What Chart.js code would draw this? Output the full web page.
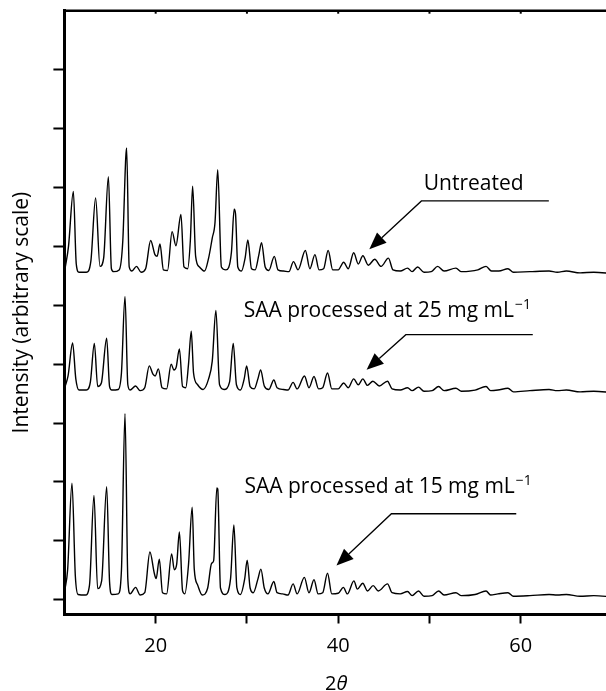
<!DOCTYPE html>
<html>
<head>
<meta charset="utf-8">
<script src="https://cdn.jsdelivr.net/npm/chart.js@4/dist/chart.umd.min.js"></script>
<style>
  html, body { margin: 0; padding: 0; background: #fff; overflow: hidden; width: 606px; height: 691px; }
  #wrap { position: relative; width: 616px; height: 691px; }
</style>
</head>
<body>
<div id="wrap"><canvas id="xrd" width="616" height="691"></canvas></div>
<script>
// Powder X-ray diffraction patterns, stacked on an arbitrary intensity scale.

// Untreated material
const angleUntreated = [
  10.07, 10.45, 10.98, 11.3, 11.6, 12.4, 12.9, 13.42, 13.9, 14.3, 14.82, 15.15, 15.4, 16.0, 16.4, 16.72, 16.82, 17.1, 17.4,
  17.9, 18.4, 18.9, 19.45, 19.92, 20.16, 20.47, 20.85, 21.3, 21.8, 22.22, 22.77, 23.1, 23.5, 23.8, 24.05, 24.38, 24.8,
  25.35, 25.8, 26.2, 26.5, 26.8, 27.2, 27.7, 28.3, 28.6, 28.75, 29.0, 29.4, 29.8, 30.1, 30.5, 30.9, 31.3, 31.6, 32.0,
  32.4, 33.0, 33.4, 34.0, 34.6, 35.1, 35.6, 36.4, 36.9, 37.45, 37.9, 38.4, 38.9, 39.4, 40.0, 40.6, 41.1, 41.7, 42.2,
  42.7, 43.3, 44.0, 44.7, 45.5, 46.0, 46.8, 47.6, 48.1, 48.7, 49.4, 50.2, 50.9, 51.6, 52.9, 53.5, 55.3, 56.2, 56.8,
  57.6, 58.6, 59.2, 61.0, 63.1, 64.0, 65.0, 66.5, 68.0, 70.0
];
const intensityUntreated = [
  5.62, 6.0, 6.93, 5.7, 5.56, 5.56, 5.75, 6.82, 5.66, 5.8, 7.18, 5.62, 5.57, 5.6, 6.1, 7.5, 7.67, 5.65, 5.58,
  5.66, 5.56, 5.62, 6.10, 5.86, 5.83, 6.04, 5.6, 5.59, 6.25, 6.01, 6.54, 5.65, 5.62, 6.1, 7.02, 5.83, 5.65,
  5.58, 5.8, 6.14, 6.4, 7.30, 5.65, 5.6, 5.9, 6.63, 6.55, 5.65, 5.58, 5.8, 6.11, 5.62, 5.6, 5.85, 6.06, 5.65,
  5.59, 5.83, 5.6, 5.58, 5.57, 5.74, 5.6, 5.93, 5.62, 5.86, 5.6, 5.62, 5.93, 5.6, 5.6, 5.73, 5.62, 5.89, 5.7,
  5.84, 5.68, 5.78, 5.66, 5.80, 5.6, 5.58, 5.63, 5.57, 5.65, 5.56, 5.57, 5.66, 5.58, 5.63, 5.57, 5.6, 5.66, 5.58,
  5.58, 5.62, 5.56, 5.57, 5.58, 5.56, 5.58, 5.55, 5.56, 5.54
];

// SAA processed at 25 mg/mL
const angle25 = [
  10.07, 10.4, 10.9, 11.25, 11.6, 12.4, 12.85, 13.28, 13.65, 14.05, 14.63, 14.95, 15.2, 15.9, 16.25, 16.64, 16.95, 17.2,
  17.8, 18.3, 18.8, 19.3, 19.7, 19.95, 20.3, 20.7, 21.2, 21.7, 22.0, 22.25, 22.6, 22.95, 23.3, 23.6, 23.9, 24.15, 24.6,
  25.2, 25.8, 26.2, 26.6, 27.0, 27.5, 28.1, 28.5, 28.85, 29.3, 29.7, 29.97, 30.35, 30.8, 31.2, 31.5, 31.9, 32.4, 32.95,
  33.3, 34.0, 34.5, 35.06, 35.5, 36.3, 36.8, 37.35, 37.85, 38.3, 38.83, 39.3, 40.0, 40.6, 41.1, 41.7, 42.2, 42.7, 43.2,
  43.8, 44.5, 45.4, 45.9, 46.8, 47.6, 48.1, 48.8, 49.4, 50.3, 51.0, 51.6, 52.9, 53.5, 55.0, 56.2, 56.7, 57.5, 58.6,
  59.2, 61.0, 63.1, 64.0, 65.0, 66.5, 68.0, 70.0
];
const intensity25 = [
  3.62, 3.8, 4.36, 3.75, 3.56, 3.56, 3.7, 4.35, 3.62, 3.68, 4.44, 3.62, 3.56, 3.57, 3.85, 5.15, 3.65, 3.56,
  3.63, 3.55, 3.6, 3.97, 3.83, 3.8, 3.92, 3.6, 3.58, 4.0, 3.9, 3.95, 4.26, 3.62, 3.6, 4.0, 4.56, 3.85, 3.65,
  3.57, 3.75, 4.05, 4.91, 3.65, 3.57, 3.7, 4.35, 3.65, 3.56, 3.75, 3.97, 3.62, 3.58, 3.75, 3.9, 3.63, 3.57, 3.73,
  3.6, 3.57, 3.56, 3.69, 3.58, 3.80, 3.6, 3.79, 3.58, 3.6, 3.85, 3.58, 3.58, 3.68, 3.6, 3.75, 3.65, 3.75, 3.64,
  3.71, 3.63, 3.71, 3.58, 3.56, 3.6, 3.55, 3.61, 3.54, 3.55, 3.62, 3.55, 3.59, 3.54, 3.56, 3.62, 3.55, 3.56, 3.59,
  3.53, 3.55, 3.57, 3.55, 3.56, 3.53, 3.54, 3.52
];

// SAA processed at 15 mg/mL
const angle15 = [
  10.05, 10.35, 10.83, 11.2, 11.5, 12.3, 12.75, 13.24, 13.64, 14.08, 14.63, 14.95, 15.2, 15.9, 16.25, 16.64, 16.95, 17.2,
  17.8, 18.3, 18.8, 19.37, 19.85, 20.05, 20.4, 20.75, 21.2, 21.75, 22.04, 22.3, 22.6, 22.95, 23.2, 23.6, 24.0, 24.23,
  24.6, 25.1, 25.7, 26.13, 26.35, 26.7, 26.8, 27.1, 27.6, 28.2, 28.57, 28.9, 29.3, 29.75, 30.03, 30.35, 30.7, 31.2,
  31.53, 31.9, 32.3, 32.95, 33.3, 33.9, 34.5, 35.06, 35.5, 36.29, 36.8, 37.35, 37.8, 38.3, 38.83, 39.3, 40.0, 40.57,
  41.0, 41.72, 42.1, 42.69, 43.2, 43.83, 44.4, 45.4, 45.9, 46.8, 47.6, 48.1, 48.8, 49.4, 50.3, 51.0, 51.6, 52.9, 53.5,
  55.0, 56.2, 56.7, 57.5, 58.6, 59.2, 61.0, 63.1, 64.0, 65.0, 66.5, 68.0, 70.0
];
const intensity15 = [
  0.17, 0.5, 1.98, 0.4, 0.09, 0.08, 0.25, 1.77, 0.19, 0.32, 1.92, 0.3, 0.09, 0.1, 0.5, 3.16, 0.35, 0.1,
  0.21, 0.08, 0.12, 0.81, 0.45, 0.36, 0.69, 0.12, 0.1, 0.78, 0.51, 0.6, 1.15, 0.15, 0.1, 0.6, 1.57, 0.52,
  0.25, 0.08, 0.2, 0.62, 0.66, 1.9, 1.88, 0.2, 0.09, 0.35, 1.27, 0.2, 0.09, 0.35, 0.67, 0.2, 0.12, 0.35,
  0.52, 0.2, 0.1, 0.31, 0.12, 0.1, 0.08, 0.27, 0.1, 0.38, 0.12, 0.34, 0.1, 0.12, 0.45, 0.1, 0.11, 0.21,
  0.1, 0.32, 0.18, 0.28, 0.15, 0.24, 0.15, 0.27, 0.12, 0.1, 0.14, 0.07, 0.15, 0.06, 0.07, 0.15, 0.08, 0.12, 0.07,
  0.09, 0.15, 0.08, 0.1, 0.12, 0.06, 0.07, 0.09, 0.08, 0.09, 0.06, 0.07, 0.05
];

// Axis ticks
const xTickValues = [20, 30, 40, 50, 60];
const xTickLabels = [20, 40, 60];
const yTickValues = [0, 1, 2, 3, 4, 5, 6, 7, 8, 9];

// Pattern labels and their pointer arrows (in axis units: angle, intensity)
const noteTexts = ['Untreated', 'SAA processed at 25 mg mL', 'SAA processed at 15 mg mL'];
const noteSuperscripts = ['', '\u22121', '\u22121'];
const noteTextAt = [[49.38, 6.96], [29.64, 4.80], [29.73, 1.81]];
const noteShelf = [[49.12, 63.08, 6.77], [47.41, 61.32, 4.50], [45.83, 59.51, 1.46]];
const noteTip = [[43.41, 5.95], [43.11, 3.905], [39.81, 0.58]];

const FONT = '"Open Sans", "Noto Sans", sans-serif';

function toPoints(xs, ys) { return xs.map((v, i) => ({ x: v, y: ys[i] })); }

const decor = {
  id: 'decor',
  afterDraw(chart) {
    const { ctx, chartArea: a, scales: { x, y } } = chart;
    ctx.save();
    ctx.strokeStyle = '#000';
    ctx.fillStyle = '#000';

    // upper frame line with small inward ticks
    ctx.lineWidth = 2.5;
    ctx.beginPath(); ctx.moveTo(a.left - 1, a.top); ctx.lineTo(a.right, a.top); ctx.stroke();
    ctx.lineWidth = 2;
    xTickValues.forEach(v => {
      const px = x.getPixelForValue(v);
      ctx.beginPath(); ctx.moveTo(px, a.top); ctx.lineTo(px, a.top + 3); ctx.stroke();
    });

    // angle tick labels
    ctx.font = '20px ' + FONT;
    ctx.textAlign = 'center';
    ctx.textBaseline = 'alphabetic';
    xTickLabels.forEach(v => {
      ctx.fillText(String(v), x.getPixelForValue(v), a.bottom + 37.5);
    });

    // pattern labels with arrows
    noteTexts.forEach((t, i) => {
      ctx.font = '21px ' + FONT;
      ctx.textAlign = 'left';
      ctx.textBaseline = 'alphabetic';
      const tx = x.getPixelForValue(noteTextAt[i][0]);
      const ty = y.getPixelForValue(noteTextAt[i][1]);
      ctx.fillText(t, tx, ty);
      if (noteSuperscripts[i]) {
        const w = ctx.measureText(t).width;
        ctx.font = '14px ' + FONT;
        ctx.fillText(noteSuperscripts[i], tx + w + 1, ty - 8);
      }
      const xr = x.getPixelForValue(noteShelf[i][1]);
      const xl = x.getPixelForValue(noteShelf[i][0]);
      const ys = y.getPixelForValue(noteShelf[i][2]);
      const tipX = x.getPixelForValue(noteTip[i][0]);
      const tipY = y.getPixelForValue(noteTip[i][1]);
      const ang = Math.atan2(tipY - ys, tipX - xl);
      const headLen = 17, headW = 7;
      const bx = tipX - headLen * Math.cos(ang), by = tipY - headLen * Math.sin(ang);
      ctx.lineWidth = 1.3;
      ctx.beginPath(); ctx.moveTo(xr, ys); ctx.lineTo(xl, ys); ctx.lineTo(bx, by); ctx.stroke();
      ctx.beginPath();
      ctx.moveTo(tipX, tipY);
      ctx.lineTo(bx + headW * Math.sin(ang), by - headW * Math.cos(ang));
      ctx.lineTo(bx - headW * Math.sin(ang), by + headW * Math.cos(ang));
      ctx.closePath(); ctx.fill();
    });

    // axis titles
    ctx.font = '21px ' + FONT;
    ctx.textAlign = 'center';
    ctx.textBaseline = 'middle';
    ctx.save();
    ctx.translate(22, (a.top + a.bottom) / 2);
    ctx.rotate(-Math.PI / 2);
    ctx.fillText('Intensity (arbitrary scale)', 0, 0);
    ctx.restore();

    const cx = (a.left + a.right) / 2 - 2;
    ctx.textBaseline = 'alphabetic';
    ctx.textAlign = 'left';
    ctx.font = '20px ' + FONT;
    const w2 = ctx.measureText('2').width;
    ctx.font = 'italic 20px ' + FONT;
    const wt = ctx.measureText('\u03b8').width;
    const start = cx - (w2 + wt) / 2;
    ctx.font = '20px ' + FONT;
    ctx.fillText('2', start, 690);
    ctx.font = 'italic 20px ' + FONT;
    ctx.fillText('\u03b8', start + w2, 690);
    ctx.restore();
  }
};

const lineStyle = {
  borderColor: '#000',
  borderWidth: 1.4,
  pointRadius: 0,
  fill: false,
  cubicInterpolationMode: 'monotone'
};

new Chart(document.getElementById('xrd'), {
  type: 'line',
  data: {
    datasets: [
      Object.assign({ label: noteTexts[0], data: toPoints(angleUntreated, intensityUntreated) }, lineStyle),
      Object.assign({ label: noteTexts[1], data: toPoints(angle25, intensity25) }, lineStyle),
      Object.assign({ label: noteTexts[2], data: toPoints(angle15, intensity15) }, lineStyle)
    ]
  },
  options: {
    responsive: false,
    animation: false,
    devicePixelRatio: 1,
    layout: { padding: { top: 10.7, right: 4, left: 0, bottom: 0 } },
    plugins: { legend: { display: false }, tooltip: { enabled: false } },
    scales: {
      x: {
        type: 'linear',
        min: 10,
        max: 70,
        afterBuildTicks: s => { s.ticks = xTickValues.map(v => ({ value: v })); },
        afterFit: s => { s.height = 76.5; },
        ticks: { autoSkip: false, maxRotation: 0, padding: 0, callback: () => '' },
        grid: { drawOnChartArea: false, drawTicks: true, tickLength: 9, tickWidth: 2, tickColor: '#000' },
        border: { color: '#000', width: 3 }
      },
      y: {
        type: 'linear',
        min: -0.25,
        max: 10,
        afterBuildTicks: s => { s.ticks = yTickValues.map(v => ({ value: v })); },
        afterFit: s => { s.width = 64.4; },
        ticks: { display: true, callback: () => '', padding: 0 },
        grid: { drawOnChartArea: false, drawTicks: true, tickLength: 11, tickWidth: 2, tickColor: '#000' },
        border: { color: '#000', width: 3 }
      }
    }
  },
  plugins: [decor]
});
</script>
</body>
</html>
